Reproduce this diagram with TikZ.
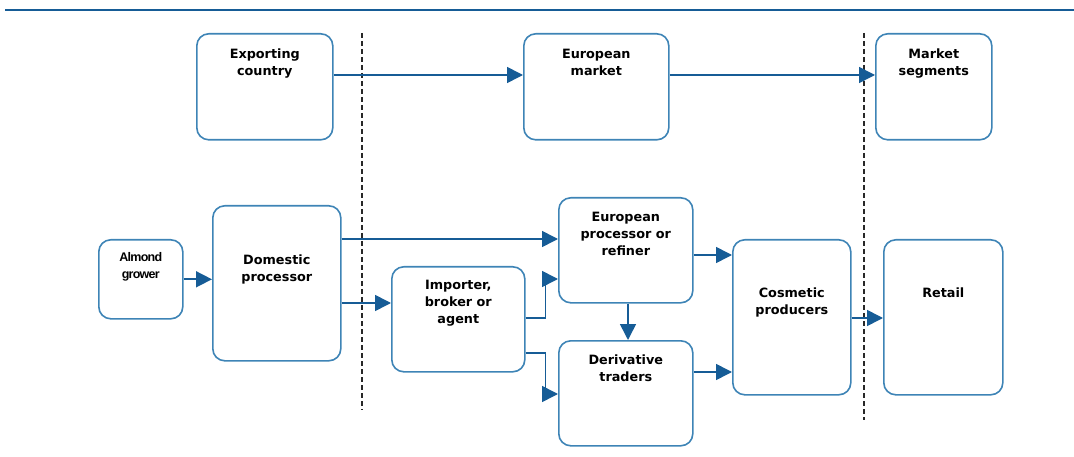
\documentclass[tikz,border=0pt]{standalone}
\usepackage{fontspec}
\setmainfont{DejaVu Sans}
\newfontfamily\growerfont{Liberation Sans}[LetterSpace=-6]
\usetikzlibrary{arrows.meta,%
                positioning}

\definecolor{boxblue}{RGB}{62,132,182}
\definecolor{flowblue}{RGB}{22,92,150}
\definecolor{divgray}{RGB}{40,40,40}
% text block hanging from the top of a box: width, height, top gap, text
\newcommand{\boxtext}[4]{\parbox[c][#2pt][t]{#1pt}{\centering\vspace*{#3pt}#4}}

\begin{document}
\begin{tikzpicture}[x=1pt,y=-1pt,
  stage/.style={draw=boxblue,line width=1.6pt,rounded corners=12pt,
    inner sep=0pt,anchor=north west,
    font=\bfseries\fontsize{12.8}{17}\selectfont},
  flow/.style={draw=flowblue,line width=1.6pt,
    -{Triangle[length=16pt,width=16pt]}},
  divider/.style={draw=divgray,line width=1.3pt,dash pattern=on 5pt off 3pt}]
\useasboundingbox (0,0) rectangle (1074,457);
\draw[draw=flowblue,line width=1.8pt] (5,10) -- (1074,10);
% dividers
\coordinate (d1t) at (362,33);
\coordinate (d1b) at (362,410);
\coordinate (d2t) at (864,33);
\coordinate (d2b) at (864,420);
\draw[divider] (d1t) -- (d1b);
\draw[divider] (d2t) -- (d2b);
% top row
\node[stage] (exp) at (196,33) {\boxtext{136}{106}{15}{Exporting\\country}};
\node[stage] (eum) at (523,33) {\boxtext{145}{106}{15}{European\\market}};
\node[stage] (seg) at (875,33) {\boxtext{116}{106}{15}{Market\\segments}};
% chain
\node[stage,font=\growerfont\bfseries\fontsize{12.5}{17}\selectfont] (grow) at (98,239)
  {\boxtext{84}{79}{13}{Almond\\grower}};
\node[stage] (dom) at (212,205) {\boxtext{128}{155}{49}{Domestic\\processor}};
\node[stage] (imp) at (391,266) {\boxtext{133}{105}{13}{Importer,\\broker or\\agent}};
\node[stage] (eup) at (558,197) {\boxtext{134}{105}{14}{European\\processor or\\refiner}};
\node[stage] (der) at (558,340) {\boxtext{134}{105}{14}{Derivative\\traders}};
\node[stage] (cos) at (732,239) {\boxtext{118}{155}{48}{Cosmetic\\producers}};
\node[stage] (ret) at (883,239) {\boxtext{119}{155}{48}{Retail}};
% flows
\draw[flow] (exp.east |- 0,75) -- (eum.west |- 0,75);
\draw[flow] (eum.east |- 0,75) -- (seg.west |- 0,75);
\draw[flow] (grow.east) -- (dom.west |- grow.east);
\draw[flow] (dom.east |- 0,239) -- (eup.west |- 0,239);
\draw[flow] (dom.east |- 0,303) -- (imp.west |- 0,303);
\draw[flow] (imp.east |- 0,318) -- ++(20,0) |- (eup.west |- 0,279);
\draw[flow] (imp.east |- 0,353) -- ++(20,0) |- (der.west |- 0,394);
\draw[flow] (eup.south -| 628,0) -- (der.north -| 628,0);
\draw[flow] (eup.east |- 0,255) -- (cos.west |- 0,255);
\draw[flow] (der.east |- 0,372) -- (cos.west |- 0,372);
\draw[flow] (cos.east |- 0,318) -- (ret.west |- 0,318);
\end{tikzpicture}
\end{document}
